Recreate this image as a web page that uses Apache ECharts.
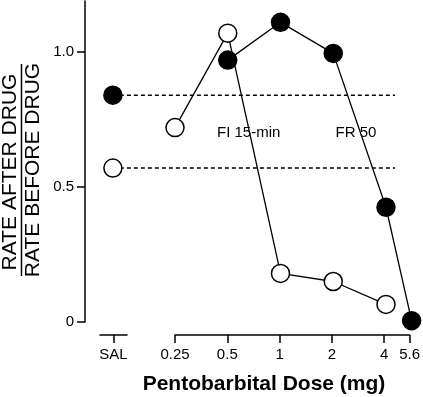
<!DOCTYPE html>
<html><head><meta charset="utf-8">
<script src="https://cdn.jsdelivr.net/npm/echarts@6/dist/echarts.min.js"></script>
<style>html,body{margin:0;padding:0;background:#fff}#c{width:423px;height:397px}</style>
</head><body><div id="c"></div>
<script>
// ---- data ----
const doseTicks = [0.25, 0.5, 1, 2, 4, 5.6];
const yTicks = [0, 0.5, 1.0];
const salCategory = ['SAL'];
const fiDoses = [0.25, 0.5, 1, 2, 4];
const fiValues = [0.72, 1.07, 0.18, 0.15, 0.065];
const frDoses = [0.5, 1, 2, 4, 5.6];
const frValues = [0.97, 1.11, 0.995, 0.425, 0.005];
const salFI = 0.57;
const salFR = 0.84;
const seriesLabels = ['FI 15-min', 'FR 50'];
const yTitleTop = 'RATE AFTER DRUG';
const yTitleBottom = 'RATE BEFORE DRUG';
const xTitle = 'Pentobarbital Dose (mg)';

// ---- layout constants (not data) ----
const salDose = 0.1105;      // nominal position of SAL on the log dose scale
const refLineEnd = 4.5;      // where the dashed saline reference lines stop
const axisMin = 0.0766;
const axisMax = 5.6;
const FONT = '"Liberation Sans", Arial, Helvetica, sans-serif';

const zip = (xs, ys) => xs.map((x, i) => [x, ys[i]]);

const chart = echarts.init(document.getElementById('c'), null, {renderer: 'canvas'});
const black = '#000';
const tickStyle = {show: true, length: 8, lineStyle: {color: black, width: 1.5}};

chart.setOption({
  animation: false,
  backgroundColor: '#fff',
  grid: [
    {left: 85, right: 11.4, top: 1, height: 321},
    {left: 100, width: 27, top: 334, height: 1},
    {left: 175, right: 11.4, top: 334, height: 1}
  ],
  xAxis: [
    {gridIndex: 0, type: 'log', logBase: 2, min: axisMin, max: axisMax, show: false},
    {gridIndex: 1, type: 'category', data: salCategory, boundaryGap: true,
      axisLine: {lineStyle: {color: black, width: 1.5}},
      axisTick: Object.assign({alignWithLabel: true}, tickStyle),
      axisLabel: {color: black, fontSize: 15, fontFamily: FONT, margin: 12},
      splitLine: {show: false}},
    {gridIndex: 2, type: 'log', logBase: 2, min: 0.25, max: 5.6,
      axisLine: {lineStyle: {color: black, width: 1.5}},
      axisTick: Object.assign({customValues: doseTicks}, tickStyle),
      axisLabel: {customValues: doseTicks, color: black, fontSize: 15, fontFamily: FONT, margin: 12,
        formatter: v => String(v)},
      splitLine: {show: false}, minorTick: {show: false}}
  ],
  yAxis: [
    {gridIndex: 0, type: 'value', min: 0, max: 1.189,
      axisLine: {show: true, lineStyle: {color: black, width: 1.5}},
      axisTick: Object.assign({customValues: yTicks}, tickStyle),
      axisLabel: {customValues: yTicks, color: black, fontSize: 15, fontFamily: FONT, margin: 11,
        formatter: v => v === 0 ? '0' : v.toFixed(1)},
      splitLine: {show: false}},
    {gridIndex: 1, type: 'value', show: false},
    {gridIndex: 2, type: 'value', show: false}
  ],
  series: [
    {type: 'line', xAxisIndex: 0, yAxisIndex: 0, data: [[salDose, salFR], [refLineEnd, salFR]],
      symbol: 'none', lineStyle: {color: black, width: 1.5, type: [4, 3]}, z: 1, silent: true},
    {type: 'line', xAxisIndex: 0, yAxisIndex: 0, data: [[salDose, salFI], [refLineEnd, salFI]],
      symbol: 'none', lineStyle: {color: black, width: 1.5, type: [4, 3]}, z: 1, silent: true},
    {name: seriesLabels[0], type: 'line', xAxisIndex: 0, yAxisIndex: 0, data: zip(fiDoses, fiValues),
      symbol: 'circle', symbolSize: 18, showAllSymbol: true,
      itemStyle: {color: '#fff', borderColor: black, borderWidth: 1.5, opacity: 1},
      lineStyle: {color: black, width: 1.3}, z: 3},
    {name: seriesLabels[1], type: 'line', xAxisIndex: 0, yAxisIndex: 0, data: zip(frDoses, frValues),
      symbol: 'circle', symbolSize: 18, showAllSymbol: true,
      itemStyle: {color: black, borderColor: black, borderWidth: 1.5, opacity: 1},
      lineStyle: {color: black, width: 1.3}, z: 4},
    {type: 'scatter', xAxisIndex: 0, yAxisIndex: 0, data: [[salDose, salFR]], symbolSize: 18,
      itemStyle: {color: black, borderColor: black, borderWidth: 1.5, opacity: 1}, z: 5},
    {type: 'scatter', xAxisIndex: 0, yAxisIndex: 0, data: [[salDose, salFI]], symbolSize: 18,
      itemStyle: {color: '#fff', borderColor: black, borderWidth: 1.5, opacity: 1}, z: 5}
  ],
  graphic: [
    {type: 'text', x: 248.7, y: 132.7, style: {text: seriesLabels[0], font: '15px ' + FONT, fill: black, align: 'center', verticalAlign: 'middle'}},
    {type: 'text', x: 356, y: 132.7, style: {text: seriesLabels[1], font: '15px ' + FONT, fill: black, align: 'center', verticalAlign: 'middle'}},
    {type: 'text', x: 10, y: 172, rotation: Math.PI / 2, style: {text: yTitleTop, font: '21px ' + FONT, fill: black, align: 'center', verticalAlign: 'middle'}},
    {type: 'text', x: 33, y: 170, rotation: Math.PI / 2, style: {text: yTitleBottom, font: '21px ' + FONT, fill: black, align: 'center', verticalAlign: 'middle'}},
    {type: 'line', shape: {x1: 21.5, y1: 64, x2: 21.5, y2: 276}, style: {stroke: black, lineWidth: 1.5}},
    {type: 'text', x: 264, y: 384, style: {text: xTitle, font: 'bold 21px ' + FONT, fill: black, align: 'center', verticalAlign: 'middle'}}
  ]
});
</script>
</body></html>
